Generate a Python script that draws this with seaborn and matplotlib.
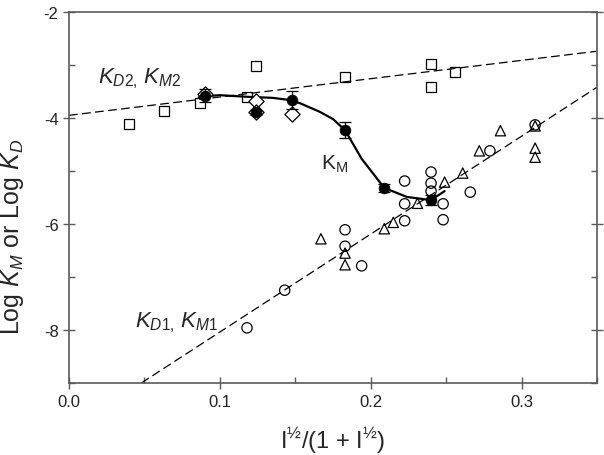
import numpy as np
import pandas as pd
import matplotlib
matplotlib.use("Agg")
import matplotlib.pyplot as plt
import seaborn as sns
from matplotlib.ticker import MultipleLocator, FormatStrFormatter

# open squares (K_D2 / K_M2 data)
sq_x = [0.040, 0.063, 0.087, 0.118, 0.124, 0.183, 0.240, 0.240, 0.256]
sq_y = [-4.11, -3.87, -3.72, -3.60, -3.02, -3.23, -2.98, -3.42, -3.13]

# open diamonds
dia_x = [0.090, 0.124, 0.124, 0.148]
dia_y = [-3.55, -3.68, -3.89, -3.93]

# open circles
circ_x = [0.118, 0.143, 0.183, 0.183, 0.194, 0.2225, 0.2225, 0.2225,
          0.240, 0.240, 0.240, 0.248, 0.248, 0.266, 0.279, 0.309]
circ_y = [-7.96, -7.25, -6.11, -6.42, -6.79, -5.19, -5.62, -5.94,
          -5.02, -5.23, -5.38, -5.62, -5.92, -5.40, -4.62, -4.13]

# open triangles
tri_x = [0.167, 0.183, 0.183, 0.209, 0.215, 0.231, 0.249, 0.261,
         0.272, 0.286, 0.309, 0.309, 0.309]
tri_y = [-6.28, -6.55, -6.77, -6.09, -5.97, -5.61, -5.21, -5.04,
         -4.62, -4.24, -4.15, -4.57, -4.74]

# K_M means with error bars
km_x = [0.090, 0.124, 0.148, 0.183, 0.209, 0.240]
km_y = [-3.58, -3.89, -3.66, -4.23, -5.32, -5.55]
km_err = [0.12, 0.05, 0.17, 0.15, 0.07, 0.10]

# K_M curve
curve_x = [0.086, 0.090, 0.100, 0.118, 0.135, 0.146, 0.153, 0.166, 0.175,
           0.183, 0.194, 0.209, 0.224, 0.240, 0.249]
curve_y = [-3.61, -3.59, -3.57, -3.60, -3.62, -3.66, -3.72, -3.88, -4.02,
           -4.23, -4.77, -5.32, -5.49, -5.55, -5.38]

# dashed fit lines
d2_x = [0.0, 0.35]
d2_y = [-3.95, -2.74]
d1_x = [0.048, 0.35]
d1_y = [-9.0, -3.42]

sns.set_style("ticks")
plt.rcParams['font.family'] = ['Liberation Sans', 'DejaVu Sans']
plt.rcParams['mathtext.fontset'] = 'custom'
plt.rcParams['mathtext.rm'] = 'Liberation Sans'
plt.rcParams['mathtext.it'] = 'Liberation Sans:italic'
plt.rcParams['axes.unicode_minus'] = False

fig, ax = plt.subplots(figsize=(6.04, 4.56), dpi=100)
fig.subplots_adjust(left=0.1142, right=0.9884, bottom=0.158, top=0.9715)

dash = (0, (7, 3.5))
sns.lineplot(x=d2_x, y=d2_y, color='k', lw=0.9, linestyle=dash, ax=ax, zorder=1)
sns.lineplot(x=d1_x, y=d1_y, color='k', lw=0.9, linestyle=dash, ax=ax, zorder=1)

sns.scatterplot(x=sq_x, y=sq_y, marker='s', s=55, facecolor='none',
                edgecolor='k', linewidth=0.9, ax=ax, zorder=2)
sns.scatterplot(x=circ_x, y=circ_y, marker='o', s=55, facecolor='none',
                edgecolor='k', linewidth=0.9, ax=ax, zorder=2)
sns.scatterplot(x=tri_x, y=tri_y, marker='^', s=55, facecolor='none',
                edgecolor='k', linewidth=0.9, ax=ax, zorder=2)

sns.lineplot(x=curve_x, y=curve_y, color='k', lw=1.6, sort=False, ax=ax, zorder=3)

sns.scatterplot(x=dia_x, y=dia_y, marker='D', s=60, facecolor='white',
                edgecolor='k', linewidth=0.9, ax=ax, zorder=4)
ax.errorbar(km_x, km_y, yerr=km_err, fmt='none', ecolor='k', elinewidth=0.9,
            capsize=4, capthick=0.9, zorder=5)
sns.scatterplot(x=km_x, y=km_y, marker='o', s=60, color='k',
                edgecolor='k', linewidth=0.5, ax=ax, zorder=6)

ax.set_xlim(0, 0.35)
ax.set_ylim(-9, -2)
ax.xaxis.set_major_locator(MultipleLocator(0.1))
ax.xaxis.set_minor_locator(MultipleLocator(0.05))
ax.yaxis.set_major_locator(MultipleLocator(2))
ax.yaxis.set_minor_locator(MultipleLocator(1))
ax.xaxis.set_major_formatter(FormatStrFormatter('%.1f'))
ax.yaxis.set_major_formatter(FormatStrFormatter('%d'))

for s in ax.spines.values():
    s.set_color('#5a5a5a')
    s.set_linewidth(1.2)
ax.tick_params(which='major', direction='inout', length=9, width=1.0,
               color='#5a5a5a', labelsize=12, labelcolor='#222222',
               right=True, top=False)
ax.tick_params(which='minor', direction='in', length=4, width=1.0,
               color='#5a5a5a', right=True, top=False)
ax.tick_params(axis='y', which='major', pad=3)

ax.set_xlabel(r'I$^{½}$/(1 + I$^{½}$)', fontsize=17, labelpad=11)
ax.set_ylabel(r'Log $K_M$ or Log $K_D$', fontsize=18)
ax.yaxis.set_label_coords(-0.081, 0.395)

ax.text(0.019, -3.25, r'$K_{D2,}\,K_{M2}$', fontsize=16, va='center', ha='left')
ax.text(0.044, -7.85, r'$K_{D1,}\,K_{M1}$', fontsize=16, va='center', ha='left')
ax.text(0.167, -4.85, r'$\mathregular{K_M}$', fontsize=15, va='center', ha='left')

legend = ax.get_legend()
if legend is not None:
    legend.remove()

fig.savefig('out.png', dpi=100)
